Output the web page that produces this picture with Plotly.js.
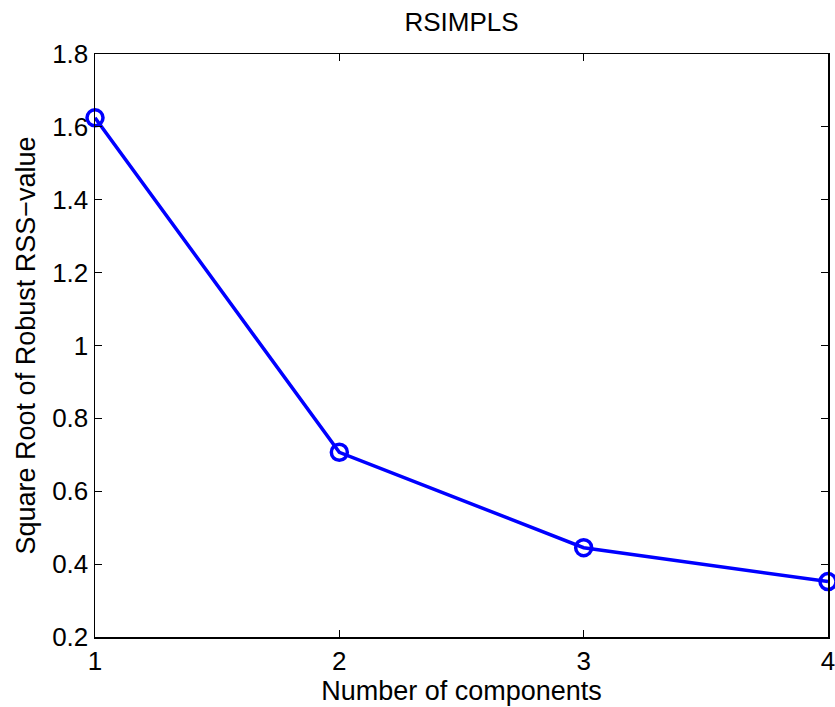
<!DOCTYPE html>
<html>
<head>
<meta charset="utf-8">
<script src="https://cdn.plot.ly/plotly-3.0.1.min.js"></script>
<style>html,body{margin:0;padding:0;background:#fff;}#chart{width:835px;height:707px;}</style>
</head>
<body>
<div id="chart"></div>
<script>
const components = [1, 2, 3, 4];
const rssValues = [1.625, 0.707, 0.445, 0.352];
const xTicks = [1, 2, 3, 4];
const yTicks = [0.2, 0.4, 0.6, 0.8, 1, 1.2, 1.4, 1.6, 1.8];
const yTickLabels = ['0.2', '0.4', '0.6', '0.8', '1', '1.2', '1.4', '1.6', '1.8'];

const fam = 'Liberation Sans, Arial, sans-serif';
const tickFont = {family: fam, size: 26, color: '#000'};
const labelFont = {family: fam, size: 27, color: '#000'};

Plotly.newPlot('chart', [{
  x: components,
  y: rssValues,
  type: 'scatter',
  mode: 'lines+markers',
  line: {color: '#0000ff', width: 3.5},
  marker: {symbol: 'circle-open', size: 16, color: '#0000ff', line: {width: 3.5, color: '#0000ff'}},
  cliponaxis: false,
  hoverinfo: 'none'
}], {
  width: 835, height: 707,
  margin: {l: 95, r: 7, t: 54, b: 70},
  paper_bgcolor: '#fff', plot_bgcolor: '#fff',
  showlegend: false,
  font: tickFont,
  title: {text: 'RSIMPLS', font: {family: fam, size: 26, color: '#000'}, xref: 'paper', x: 0.5, xanchor: 'center', y: 0.969, yanchor: 'middle'},
  xaxis: {
    range: [1, 4], tickvals: xTicks, ticktext: xTicks.map(String),
    ticks: 'inside', ticklen: 7, tickwidth: 1, tickcolor: '#000',
    showline: true, linecolor: '#000', linewidth: 1.5, mirror: 'allticks',
    showgrid: false, zeroline: false, ticklabeloverflow: 'allow',
    tickfont: tickFont,
    title: {text: 'Number of components', font: labelFont, standoff: 0}
  },
  yaxis: {
    range: [0.2, 1.8], tickvals: yTicks, ticktext: yTickLabels,
    ticks: 'inside', ticklen: 7, tickwidth: 1, tickcolor: '#000',
    showline: true, linecolor: '#000', linewidth: 1.5, mirror: 'allticks',
    showgrid: false, zeroline: false,
    tickfont: tickFont,
    title: {text: 'Square Root of Robust RSS\u2212value', font: labelFont, standoff: 8}
  }
}, {staticPlot: true});
</script>
</body>
</html>
